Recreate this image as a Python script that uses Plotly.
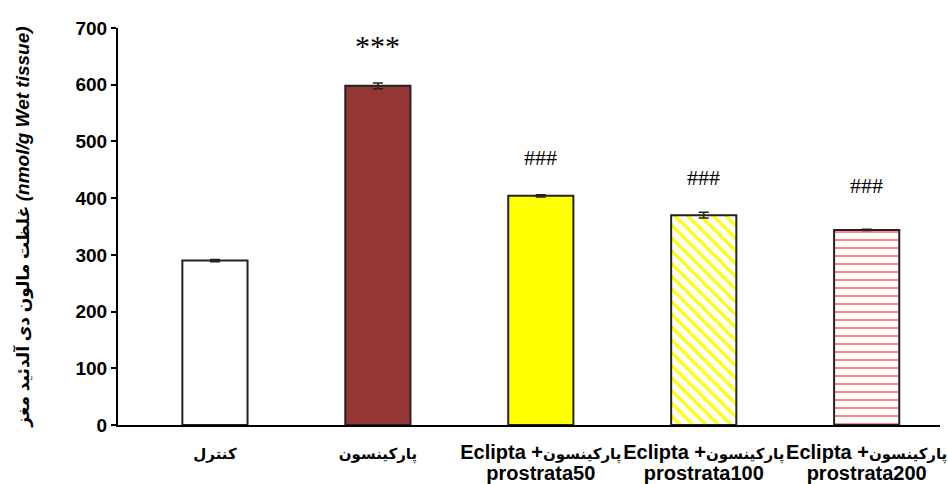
import plotly.graph_objects as go

AR = "<span style='font-size:15px'>{}</span>"
LA = "<span style='font-size:20px'>{}</span>"

# Groups, mean brain MDA levels and SEM
group_names = ["کنترل", "پارکینسون", "پارکینسون", "پارکینسون", "پارکینسون"]
extract_doses = ["", "", "50", "100", "200"]
values = [290, 598, 404, 370, 344]
errors = [2, 5, 2, 5, 1]
sig_labels = ["", "***", "###", "###", "###"]
sig_heights = [0, 670, 471, 436, 422]


def tick_label(name, dose):
    if not dose:
        return AR.format(name)
    return (LA.format("Eclipta +") + AR.format(name) + "<br>"
            + LA.format("prostrata" + dose))


categories = [tick_label(n, d) for n, d in zip(group_names, extract_doses)]

bar_colors = ["white", "#943634", "#FFFF00", "#FFFF00", "#FF6A6A"]
pattern_shapes = ["", "", "", "\\", "-"]
pattern_solidity = [0.35, 0.35, 0.35, 0.35, 0.2]

x = list(range(len(categories)))

fig = go.Figure()
fig.add_trace(go.Bar(
    x=x,
    y=values,
    width=0.4,
    marker=dict(
        color=bar_colors,
        line=dict(color="#222222", width=2),
        pattern=dict(shape=pattern_shapes, size=[9, 9, 9, 9, 8],
                     solidity=pattern_solidity, fillmode="replace"),
    ),
    error_y=dict(type="data", array=errors, visible=True,
                 color="#222222", thickness=1.5, width=5),
    showlegend=False,
))

for xi, lab, hy in zip(x, sig_labels, sig_heights):
    if lab:
        fig.add_annotation(x=xi, y=hy, text=lab, showarrow=False,
                           font=dict(family="Liberation Serif",
                                     size=30 if lab == "***" else 22,
                                     color="black"),
                           yanchor="middle")

fig.update_layout(
    width=948, height=484,
    margin=dict(l=118, r=8, t=28, b=59),
    paper_bgcolor="white", plot_bgcolor="white",
    font=dict(family="Liberation Sans, DejaVu Sans, sans-serif", color="black"),
)
fig.update_xaxes(
    range=[-0.595, 4.45],
    tickvals=x, ticktext=categories,
    tickangle=0, automargin=False,
    tickfont=dict(size=16, family="Liberation Sans, DejaVu Sans", weight="bold"),
    showline=True, linecolor="black", linewidth=2,
    ticks="", showgrid=False, zeroline=False,
    ticklabelstandoff=13,
)
fig.update_yaxes(
    range=[0, 700], dtick=100, automargin=False,
    tickfont=dict(size=19, family="Liberation Sans", weight="bold"),
    showline=True, linecolor="black", linewidth=2,
    ticks="outside", ticklen=5, tickwidth=1.5, tickcolor="black",
    showgrid=False, zeroline=False,
    title=dict(text=("غلظت مالون دی آلدئید مغز "
                     "<span style='font-size:19px'><i>(nmol/g Wet tissue)</i></span>"),
               font=dict(size=17, family="Liberation Sans, DejaVu Sans",
                         weight="bold"),
               standoff=42),
)

fig.write_html("out.html")
